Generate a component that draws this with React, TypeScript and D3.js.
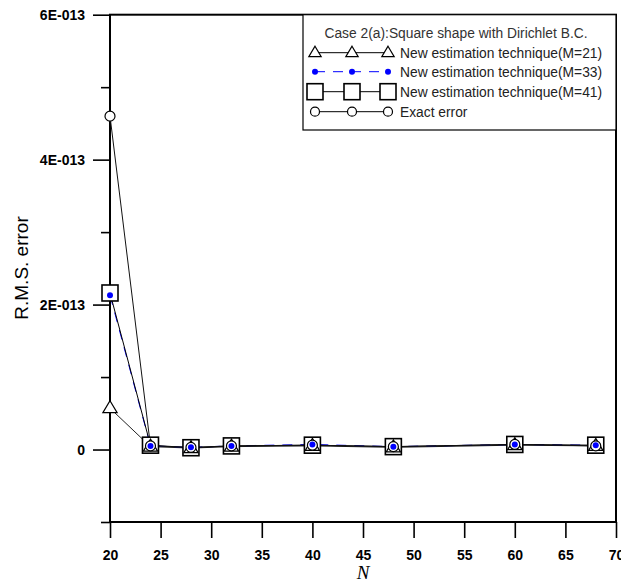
import { useEffect, useRef } from 'react'
import * as d3 from 'd3'

// ── Data (R.M.S. error) ─────────────────────────────────────────────────────
const N_VALUES = [20, 24, 28, 32, 40, 48, 60, 68]
const M21 = [0.57e-13, 0.04e-13, 0.02e-13, 0.04e-13, 0.05e-13, 0.03e-13, 0.06e-13, 0.05e-13]
const M33 = [2.13e-13, 0.05e-13, 0.03e-13, 0.05e-13, 0.07e-13, 0.04e-13, 0.07e-13, 0.06e-13]
const M41 = [2.16e-13, 0.06e-13, 0.025e-13, 0.05e-13, 0.06e-13, 0.04e-13, 0.07e-13, 0.06e-13]
const EXACT = [4.6e-13, 0.05e-13, 0.03e-13, 0.05e-13, 0.06e-13, 0.04e-13, 0.07e-13, 0.05e-13]

const X_TICKS = [20, 25, 30, 35, 40, 45, 50, 55, 60, 65, 70]
const Y_MAJOR = [0, 2e-13, 4e-13, 6e-13]
const Y_MINOR = [-1e-13, 1e-13, 3e-13, 5e-13]

const LEGEND_TITLE = 'Case 2(a):Square shape with Dirichlet B.C.'
const LEGEND_LABELS = [
  'New estimation technique(M=21)',
  'New estimation technique(M=33)',
  'New estimation technique(M=41)',
  'Exact error',
]

const W = 621
const H = 585
const PLOT = { left: 110, right: 616, top: 14.7, bottom: 522 }
const FONT = '"Liberation Sans", Arial, sans-serif'

const yFmt = (v: number) => (v === 0 ? '0' : `${Math.round(v / 1e-13)}E-013`)

export default function App() {
  const svgRef = useRef<SVGSVGElement | null>(null)

  useEffect(() => {
    if (!svgRef.current) return
    const svg = d3.select(svgRef.current)
    svg.selectAll('*').remove()

    const x = d3.scaleLinear().domain([20, 70]).range([PLOT.left, PLOT.right])
    const y = d3.scaleLinear().domain([-1e-13, 6e-13]).range([PLOT.bottom, PLOT.top])

    svg.append('rect').attr('width', W).attr('height', H).attr('fill', 'white')

    // ── Axes ────────────────────────────────────────────────────────────────
    const xAxis = svg.append('g')
      .attr('transform', `translate(0,${PLOT.bottom})`)
      .call(d3.axisBottom(x).tickValues(X_TICKS).tickSize(16).tickSizeOuter(0).tickPadding(12).tickFormat((d) => `${d}`))
    xAxis.select('.domain').remove()
    xAxis.selectAll('line').attr('stroke', '#000').attr('stroke-width', 1.6)
    xAxis.selectAll('text')
      .attr('font-family', FONT).attr('font-size', 14).attr('font-weight', 'bold')
      .attr('fill', '#000')

    const yMajor = svg.append('g')
      .attr('transform', `translate(${PLOT.left},0)`)
      .call(d3.axisLeft(y).tickValues(Y_MAJOR).tickSize(17).tickSizeOuter(0).tickPadding(8).tickFormat((d) => yFmt(+d)))
    yMajor.select('.domain').remove()
    yMajor.selectAll('line').attr('stroke', '#000').attr('stroke-width', 1.6)
    yMajor.selectAll('text')
      .attr('font-family', FONT).attr('font-size', 14).attr('font-weight', 'bold')
      .attr('fill', '#000')

    const yMinor = svg.append('g')
      .attr('transform', `translate(${PLOT.left},0)`)
      .call(d3.axisLeft(y).tickValues(Y_MINOR).tickSize(9).tickSizeOuter(0).tickFormat(() => ''))
    yMinor.select('.domain').remove()
    yMinor.selectAll('line').attr('stroke', '#000').attr('stroke-width', 1.6)

    // frame
    svg.append('rect')
      .attr('x', PLOT.left).attr('y', PLOT.top)
      .attr('width', PLOT.right - PLOT.left).attr('height', PLOT.bottom - PLOT.top)
      .attr('fill', 'none').attr('stroke', '#000').attr('stroke-width', 2)

    // axis titles
    svg.append('text')
      .attr('transform', `translate(28,268) rotate(-90)`)
      .attr('text-anchor', 'middle')
      .attr('font-family', FONT).attr('font-size', 19).attr('fill', '#000')
      .text('R.M.S. error')
    svg.append('text')
      .attr('x', x(45)).attr('y', 579)
      .attr('text-anchor', 'middle')
      .attr('font-family', '"Liberation Serif", "Times New Roman", serif')
      .attr('font-style', 'italic').attr('font-size', 19).attr('fill', '#000')
      .text('N')

    // ── Series ──────────────────────────────────────────────────────────────
    const series = [
      { values: M21, stroke: '#222', dash: null as string | null, marker: 'tri' },
      { values: M33, stroke: '#0000ff', dash: '10,8', marker: 'dot' },
      { values: M41, stroke: '#000', dash: null, marker: 'sq' },
      { values: EXACT, stroke: '#111', dash: null, marker: 'circ' },
    ]

    const line = d3.line<number>()
      .x((_, i) => x(N_VALUES[i]))
      .y((d) => y(d))

    series.forEach((s) => {
      svg.append('path')
        .datum(s.values)
        .attr('fill', 'none')
        .attr('stroke', s.stroke)
        .attr('stroke-width', 1)
        .attr('stroke-dasharray', s.dash)
        .attr('d', line)
    })

    const drawMarker = (g: d3.Selection<SVGGElement, unknown, null, undefined>, kind: string, cx: number, cy: number, big: boolean) => {
      if (kind === 'sq') {
        const s = 16
        g.append('rect')
          .attr('x', cx - s / 2).attr('y', cy - s / 2).attr('width', s).attr('height', s)
          .attr('fill', 'white').attr('stroke', '#000').attr('stroke-width', 1.6)
      } else if (kind === 'tri') {
        const r = big ? 7.5 : 6.5
        const pts = [[cx, cy - r], [cx + r * 0.95, cy + r * 0.6], [cx - r * 0.95, cy + r * 0.6]]
        g.append('polygon')
          .attr('points', pts.map((p) => p.join(',')).join(' '))
          .attr('fill', 'white').attr('stroke', '#000').attr('stroke-width', 1.2)
      } else if (kind === 'circ') {
        g.append('circle')
          .attr('cx', cx).attr('cy', cy).attr('r', big ? 5 : 4.5)
          .attr('fill', 'white').attr('stroke', '#000').attr('stroke-width', 1.2)
      } else {
        g.append('circle')
          .attr('cx', cx).attr('cy', cy).attr('r', 3)
          .attr('fill', '#0000ff')
      }
    }

    const markers = svg.append('g')
    const order = ['sq', 'tri', 'circ', 'dot']
    order.forEach((kind) => {
      const s = series.find((d) => d.marker === kind)!
      s.values.forEach((v, i) => drawMarker(markers, kind, x(N_VALUES[i]), y(v), true))
    })

    // ── Legend ──────────────────────────────────────────────────────────────
    const lg = svg.append('g')
    lg.append('rect')
      .attr('x', 303).attr('y', PLOT.top)
      .attr('width', PLOT.right - 303).attr('height', 130 - PLOT.top)
      .attr('fill', 'white').attr('stroke', '#000').attr('stroke-width', 1.2)
    lg.append('text')
      .attr('x', 456).attr('y', 33).attr('dy', '0.35em')
      .attr('text-anchor', 'middle')
      .attr('font-family', FONT).attr('font-size', 13.8).attr('fill', '#333')
      .text(LEGEND_TITLE)

    const rowY = [52.7, 71.7, 91.7, 111.7]
    const symX = [315, 352, 388]
    series.forEach((s, i) => {
      const ry = rowY[i]
      lg.append('line')
        .attr('x1', symX[0]).attr('x2', symX[2]).attr('y1', ry).attr('y2', ry)
        .attr('stroke', s.marker === 'dot' ? '#0000ff' : '#000')
        .attr('stroke-width', 1)
        .attr('stroke-dasharray', s.dash)
      symX.forEach((sx) => drawMarker(lg, s.marker, sx, ry, false))
      lg.append('text')
        .attr('x', 400).attr('y', ry).attr('dy', '0.35em')
        .attr('font-family', FONT).attr('font-size', 13.8).attr('fill', '#222')
        .text(LEGEND_LABELS[i])
    })
  }, [])

  return (
    <svg
      ref={svgRef}
      width={W}
      height={H}
      style={{ position: 'absolute', left: 0, top: 0, display: 'block' }}
    />
  )
}
